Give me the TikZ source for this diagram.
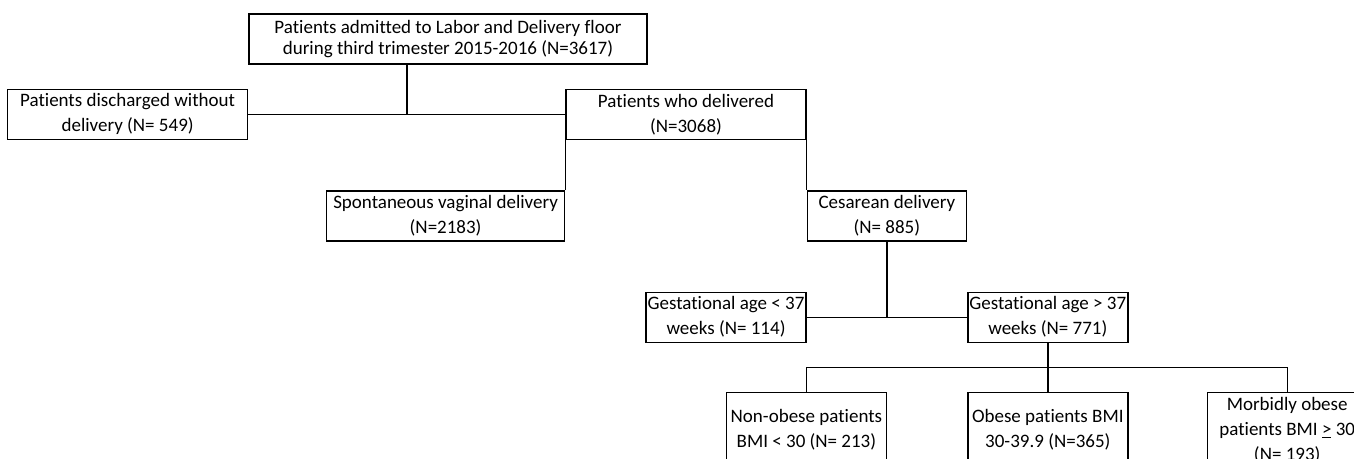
\documentclass[tikz,border=0pt]{standalone}
\usepackage{fontspec}
\setmainfont{Carlito}[Ligatures=NoCommon]
\usepackage{tikz}
\usetikzlibrary{calc}
\usetikzlibrary{positioning}
\begin{document}
\begin{tikzpicture}[x=1pt,y=-1pt,-,node distance=50pt,line width=1.4pt]
	\tikzstyle{box}=[draw, rectangle, align=center, inner sep=0pt, minimum height=50pt, font=\fontsize{19}{25}\selectfont]
	\clip (0,0) rectangle (1354,458);
	\node[box, minimum width=398pt, font=\fontsize{19}{21}\selectfont] (A) at (448,39) {Patients admitted to Labor and Delivery floor\\during third trimester 2015-2016 (N=3617)};
	\node[box, minimum width=240pt] (B) [below left=24pt and 0pt of A.south west] {Patients discharged without\\delivery (N= 549)};
	\node[box, minimum width=240pt] (C) [right=317pt of B] {Patients who delivered\\(N=3068)};
	\node[box, minimum width=238pt] (D) [below left=50pt and 0pt of C.south west] {Spontaneous vaginal delivery\\(N=2183)};
	\node[box, minimum width=159pt] (E) [below right=50pt and 0pt of C.south east] {Cesarean delivery\\(N= 885)};
	\node[box, minimum width=160pt] (F) [below left=50pt and 0pt of E.south west] {Gestational age < 37\\weeks (N= 114)};
	\node[box, minimum width=160pt] (G) [below right=50pt and 0pt of E.south east] {Gestational age > 37\\weeks (N= 771)};
	\node[box, minimum width=160pt, minimum height=75pt] (2) [below=49pt of G] {Obese patients BMI\\30-39.9 (N=365)};
	\node[box, minimum width=160pt, minimum height=75pt] (1) [left=80pt of 2] {Non-obese patients\\BMI < 30 (N= 213)};
	\node[box, minimum width=160pt, minimum height=75pt] (3) [right=78pt of 2] {Morbidly obese\\patients BMI \underline{>} 30\\(N= 193)};

	\coordinate (j1) at ($(B.east)!0.5!(C.west)$);
	\coordinate (j2) at ($(G.south)!0.5!(2.north)$);
	\draw (B.east) -- (C.west);
	\draw (j1 |- A.south) -- (j1);
	\draw (C.south west) -- (D.north east);
	\draw (C.south east) -- (E.north west);
	\draw (F.east) -- (G.west);
	\draw (E.south) -- (E.south |- F.east);
	\draw (G.south) -- (2.north);
	\draw (1.north) |- (j2) -| (3.north);
\end{tikzpicture}
\end{document}
